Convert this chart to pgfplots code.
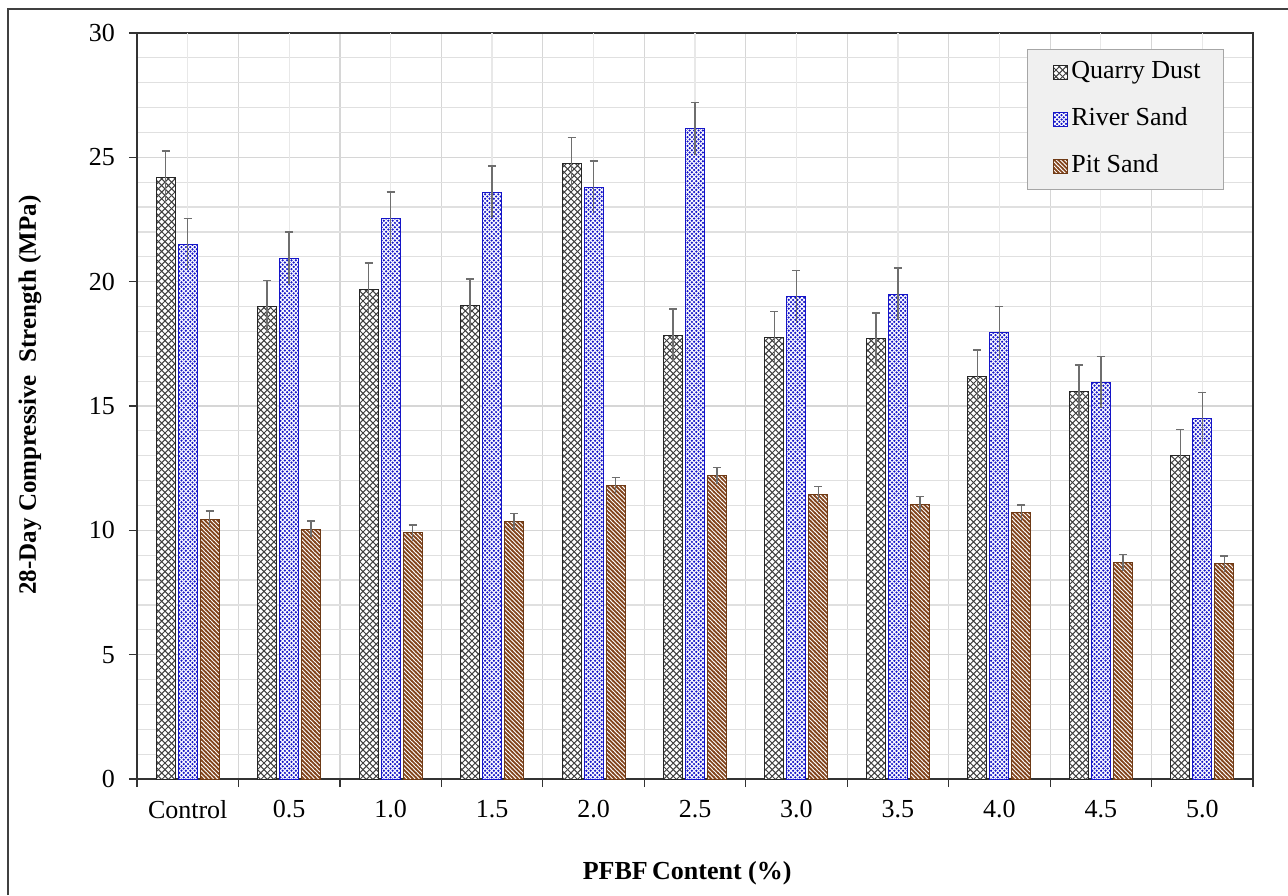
\documentclass[border=0pt]{standalone}
\usepackage{pgfplots}
\pgfplotsset{compat=1.18}
\usepackage{pgfplotstable}
\usetikzlibrary{patterns}
\usepackage{fontspec}
\setmainfont{Liberation Serif}
\definecolor{rsblue}{RGB}{20,20,200}
\definecolor{psbrown}{RGB}{130,68,28}
\definecolor{psedge}{RGB}{110,58,22}
\definecolor{errgray}{RGB}{110,110,110}

\pgfdeclarepatternformonly{qdx}{\pgfqpoint{-0.3pt}{-0.3pt}}{\pgfqpoint{3.6pt}{3.6pt}}{\pgfqpoint{3.3pt}{3.3pt}}{%
  \pgfsetlinewidth{0.5pt}%
  \pgfpathmoveto{\pgfqpoint{0pt}{0pt}}\pgfpathlineto{\pgfqpoint{3.3pt}{3.3pt}}%
  \pgfpathmoveto{\pgfqpoint{0pt}{3.3pt}}\pgfpathlineto{\pgfqpoint{3.3pt}{0pt}}%
  \pgfusepath{stroke}}
\pgfdeclarepatternformonly{rsdots}{\pgfqpoint{-0.7pt}{-0.7pt}}{\pgfqpoint{2.9pt}{2.9pt}}{\pgfqpoint{2.2pt}{2.2pt}}{%
  \pgfpathcircle{\pgfqpoint{0.55pt}{0.55pt}}{0.62pt}%
  \pgfpathcircle{\pgfqpoint{1.65pt}{1.65pt}}{0.62pt}%
  \pgfusepath{fill}}
\pgfdeclarepatternformonly{pslines}{\pgfqpoint{-0.4pt}{-0.4pt}}{\pgfqpoint{2.5pt}{2.5pt}}{\pgfqpoint{2.1pt}{2.1pt}}{%
  \pgfsetlinewidth{0.85pt}%
  \pgfpathmoveto{\pgfqpoint{-0.3pt}{2.4pt}}\pgfpathlineto{\pgfqpoint{2.4pt}{-0.3pt}}%
  \pgfusepath{stroke}}

\pgfplotstableread{
x qd qde rs rse ps pse
0 24.2 1.05 21.5 1.05 10.45 0.32
1 19.0 1.05 20.95 1.05 10.05 0.32
2 19.7 1.05 22.55 1.05 9.9 0.32
3 19.05 1.05 23.6 1.05 10.35 0.32
4 24.75 1.05 23.8 1.05 11.8 0.32
5 17.85 1.05 26.15 1.05 12.2 0.32
6 17.75 1.05 19.4 1.05 11.45 0.32
7 17.7 1.05 19.5 1.05 11.05 0.32
8 16.2 1.05 17.95 1.05 10.7 0.32
9 15.6 1.05 15.95 1.05 8.7 0.32
10 13.0 1.05 14.5 1.05 8.65 0.32
}\data

\begin{document}
\begin{tikzpicture}
\useasboundingbox (-68.5pt,-58pt) rectangle (575.5pt,389.5pt);
\draw[black!75, line width=0.6pt] (-64.5pt,-58pt) -- (-64.5pt,385pt) -- (575.5pt,385pt);
\begin{axis}[
  at={(0,0)}, anchor=south west, scale only axis,
  width=558pt, height=373pt,
  ybar, bar width=9.5pt,
  xmin=-0.5, xmax=10.5, ymin=0, ymax=30,
  xtick={-0.5,0.5,...,10.5}, xticklabels={},
  extra x ticks={0,1,2,3,4,5,6,7,8,9,10},
  extra x tick labels={Control,0.5,1.0,1.5,2.0,2.5,3.0,3.5,4.0,4.5,5.0},
  extra x tick style={major tick length=0pt, grid=major, major grid style={black!9, line width=0.6pt}},
  ytick={0,5,...,30}, minor y tick num=4,
  ymajorgrids, yminorgrids, xmajorgrids,
  major grid style={black!16, line width=0.6pt},
  minor grid style={black!12, line width=0.6pt},
  xtick pos=left, ytick pos=left,
  tick align=outside, major tick length=4pt, minor tick length=0pt,
  tick style={black!80, line width=0.6pt},
  axis line style={black!80, line width=0.7pt},
  ticklabel style={font=\fontsize{13}{15}\selectfont},
  /pgf/number format/assume math mode=true,
  yticklabel style={xshift=-3.5pt},
  xticklabel style={yshift=-7pt},
  xlabel={PFBF\,Content (\%)},
  ylabel={28-Day Compressive\ \ Strength (MPa)},
  every axis y label/.style={at={(axis description cs:-0.0959,0.5147)}, rotate=90, anchor=center,
     font=\bfseries\fontsize{12.5}{15}\selectfont},
  every axis x label/.style={at={(axis description cs:0.493,-0.126)}, anchor=center,
     font=\bfseries\fontsize{13}{15}\selectfont},
  legend cell align=left,
  legend style={at={(0.974,0.9786)}, anchor=north east, draw=black!35, fill=black!6,
    font=\fontsize{13}{15}\selectfont, inner xsep=10pt, inner ysep=4pt,
    row sep=8.5pt, column sep=0pt,
    nodes={inner sep=1.5pt, text height=9pt, text depth=3pt}},
  legend image code/.code={\draw[#1] (0pt,-3.5pt) rectangle (7pt,3.5pt); \path (-3pt,0pt);},
]
\addplot[bar shift=-11pt, fill=white, draw=black!85, line width=0.5pt, postaction={pattern=qdx, pattern color=black!75},
  error bars/.cd, y dir=plus, y explicit,
  error bar style={draw=errgray, line width=0.75pt},
  error mark options={rotate=90, mark size=2pt, draw=errgray, line width=0.75pt}]
  table[x=x, y=qd, y error=qde]{\data};
\addplot[bar shift=0pt, fill=white, draw=rsblue, line width=0.5pt, postaction={pattern=rsdots, pattern color=rsblue},
  error bars/.cd, y dir=plus, y explicit,
  error bar style={draw=errgray, line width=0.75pt},
  error mark options={rotate=90, mark size=2pt, draw=errgray, line width=0.75pt}]
  table[x=x, y=rs, y error=rse]{\data};
\addplot[bar shift=11pt, fill=white, draw=psedge, line width=0.5pt, postaction={pattern=pslines, pattern color=psbrown},
  error bars/.cd, y dir=plus, y explicit,
  error bar style={draw=errgray, line width=0.75pt},
  error mark options={rotate=90, mark size=2pt, draw=errgray, line width=0.75pt}]
  table[x=x, y=ps, y error=pse]{\data};
\legend{Quarry Dust, River Sand, Pit Sand}
\addplot[forget plot, bar shift=-11pt, draw=none, fill=none,
  error bars/.cd, y dir=minus, y explicit, error mark=none,
  error bar style={draw=errgray, line width=0.75pt}]
  table[x=x, y=qd, y error=qde]{\data};
\addplot[forget plot, bar shift=0pt, draw=none, fill=none,
  error bars/.cd, y dir=minus, y explicit, error mark=none,
  error bar style={draw=errgray, line width=0.75pt}]
  table[x=x, y=rs, y error=rse]{\data};
\addplot[forget plot, bar shift=11pt, draw=none, fill=none,
  error bars/.cd, y dir=minus, y explicit, error mark=none,
  error bar style={draw=errgray, line width=0.75pt}]
  table[x=x, y=ps, y error=pse]{\data};
\end{axis}
\end{tikzpicture}
\end{document}
